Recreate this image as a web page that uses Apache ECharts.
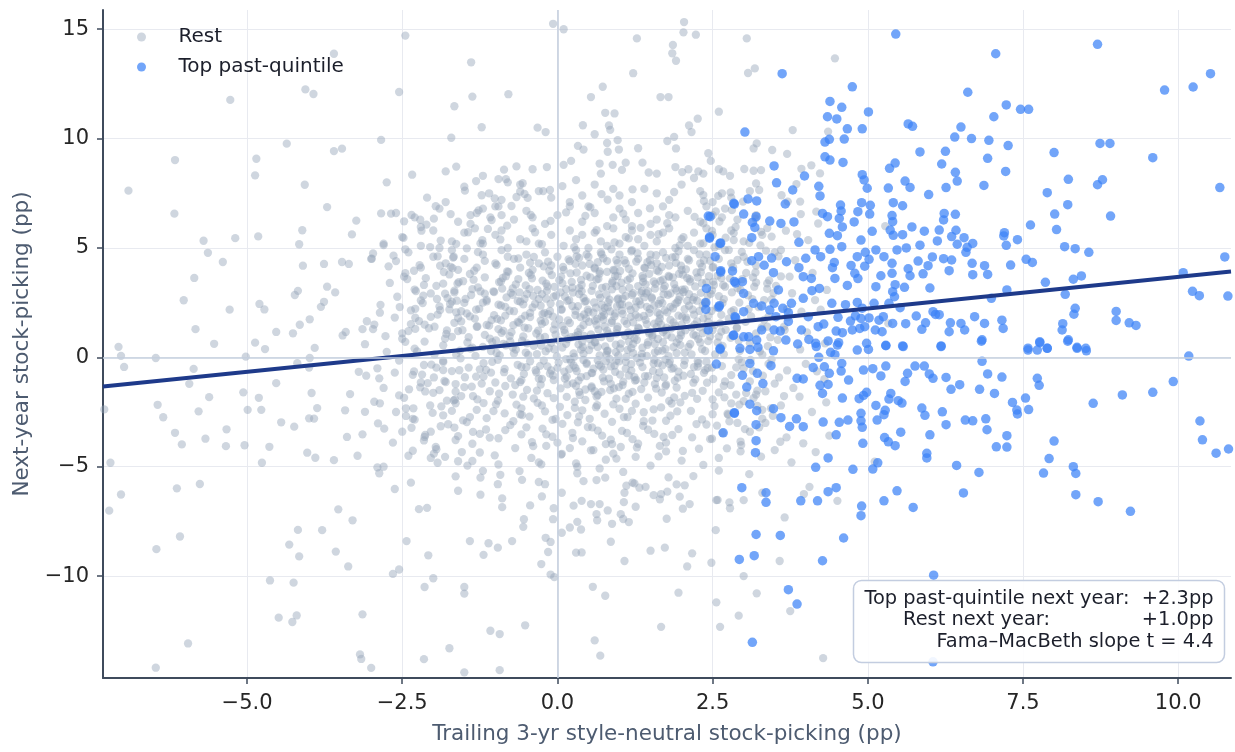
<!DOCTYPE html>
<html><head><meta charset="utf-8">
<script src="https://cdn.jsdelivr.net/npm/echarts@6/dist/echarts.min.js"></script>
<style>html,body{margin:0;padding:0;background:#fff}#chart{width:1235px;height:752px}</style>
</head><body><div id="chart"></div>
<script>
const xTicks = [-5, -2.5, 0, 2.5, 5, 7.5, 10];
const yTicks = [-10, -5, 0, 5, 10, 15];
const xRange = [-7.32, 10.85];
const yRange = [-14.66, 15.88];
const fitX = [-7.32, 10.85];
const fitY = [-1.33, 3.92];
const seriesNames = ['Rest', 'Top past-quintile'];
const statLines = ['Top past-quintile next year:  +2.3pp', 'Rest next year:', '+1.0pp', 'Fama\u2013MacBeth slope t = 4.4'];

const restSparse = [
[-6.91,7.62],[-6.16,9.02],[-6.17,6.57],[-5.27,11.77],[-5.70,5.33],[-5.63,4.78],[-5.19,5.45],[-5.39,4.36],[-5.85,3.63],[-6.02,2.61],[-5.28,2.18],[-5.83,1.29],[-4.85,9.08],[-4.87,8.32],[-4.82,5.53],[-4.36,9.77],[-4.06,12.25],[-3.93,12.04],[-3.60,13.88],[-3.60,9.43],[-3.47,9.54],[-4.07,7.89],[-3.71,6.87],[-4.11,5.81],[-4.16,5.17],[-4.10,4.19],[-3.76,4.27],[-3.47,4.36],[-3.36,4.27],[-3.31,5.62],[-3.24,6.25],[-2.84,9.94],[-2.55,12.13],[-2.45,14.71],[-1.39,13.49],[-1.37,11.92],[-1.66,11.48],[-1.22,10.52],[-1.71,10.04],[-0.79,12.03],[-0.32,10.50],[-0.19,10.30],[-0.07,15.25],[-2.34,8.35],[-2.75,8.0],[-2.84,6.58],[-2.68,6.57],[-2.47,6.22],[-2.35,6.51],[-2.21,6.29],[-2.20,5.96],[-1.99,6.34],[-2.80,5.13],[-2.97,4.75],[-2.99,4.51],[-2.64,4.65],[-2.72,4.16],[-2.45,4.94],[-2.47,3.69],[-2.31,3.96],[-2.05,5.04],[-1.89,4.19],[-1.63,8.72],[-1.31,8.06],[-1.49,7.62],[-1.63,5.19],[-1.67,4.60],[-1.72,4.14],[-1.84,3.37],[-2.15,3.31],[-2.16,2.82],[-1.94,2.67],[-1.66,2.97],[-1.62,2.59],[-1.37,3.12],[-1.17,2.91],[-1.14,2.56],[-1.46,2.01],[-1.74,2.19],[-1.89,2.16],[-2.29,2.22],[-2.29,1.81],[-2.54,2.30],[-2.86,2.04],[-3.07,1.65],[-2.97,1.29],[-3.14,1.29],[-3.41,1.16],[-3.46,1.0],[-2.77,0.97],[-2.50,1.10],[-2.29,1.3],[-2.14,1.5],[-1.98,1.4],[-1.6,1.2],[-1.3,1.4],[-3.58,2.97],[-3.71,3.23],[-3.81,2.31],[-3.76,2.54],[-4.23,2.85],[-4.18,3.04],[-4.80,2.44],[-4.72,2.19],[-3.99,1.74],[-4.15,1.49],[-4.53,1.16],[-4.26,1.10],[-0.66,8.73],[-0.86,8.58],[-0.95,8.15],[-0.83,8.15],[-0.56,7.96],[-0.6,7.58],[-0.66,7.33],[-0.48,7.29],[-1.01,7.27],[-0.95,6.9],[-0.23,7.6],[-0.12,7.65],[-0.17,8.7],[-1.2,6.8],[-1.08,6.4],[-1.4,6.5],[-1.33,5.9],
[-7.07,0.48],[-7.03,0.07],[-6.98,-0.44],[-6.47,-0.03],[-5.53,0.62],[-5.86,-0.53],[-5.93,-1.21],[-4.87,0.67],[-4.71,0.38],[-5.02,0.03],[-6.44,-2.17],[-6.35,-2.74],[-6.16,-3.45],[-6.05,-3.98],[-5.78,-2.47],[-5.67,-3.72],[-5.61,-1.82],[-5.33,-3.29],[-5.34,-4.06],[-5.04,-4.02],[-5.06,-1.6],[-4.99,-2.4],[-4.77,-2.4],[-4.81,-1.85],[-4.53,-1.18],[-4.64,-4.09],[-4.76,-4.82],[-4.45,-2.97],[-4.24,-3.17],[-4.0,-2.79],[-3.92,-2.8],[-3.87,-2.32],[-3.96,-1.63],[-4.03,-4.36],[-3.9,-4.59],[-3.6,-4.7],[-4.19,-0.27],[-4.0,-0.47],[-3.99,-0.03],[-3.91,0.43],[-3.42,-2.42],[-3.34,-1.68],[-3.39,-3.64],[-3.14,-3.52],[-3.22,-4.5],[-3.1,-2.49],[-3.2,-0.66],[-3.08,-0.84],[-2.87,-0.96],[-2.95,-2.03],[-2.86,-2.1],[-2.89,-3.02],[-2.79,-3.26],[-2.65,-3.9],[-2.9,-5.03],[-2.8,-5.0],[-2.87,-5.3],[-2.62,-6.02],[-2.62,-0.7],[-2.55,-1.74],[-2.44,-2.33],[-2.44,-2.68],[-2.32,-2.33],[-2.35,-3.22],[-2.33,-4.27],[-2.13,-3.55],[-2.04,-3.4],[-1.96,-4.1],[-1.99,-4.4],[-1.81,-4.55],[-1.93,-4.82],[-2.04,-4.6],[-2.21,-1.37],[-2.13,-1.56],[-2.18,-0.79],[-1.95,-0.47],[-1.84,-0.58],[-1.8,-1.13],[-1.78,-1.98],[-1.64,-1.57],[-1.55,-1.77],[-1.66,-3.21],[-1.64,-3.78],[-1.54,-4.33],[-1.37,-4.74],[-1.2,-5.19],[-1.64,-5.44],[-1.6,-6.1],[-1.24,-5.5],[-1.24,-6.28],[-0.96,-5.8],[-0.92,-5.37],[-0.89,-6.45],[-0.89,-6.85],[-0.61,-5.2],[-0.57,-5.6],[-0.3,-5.7],[-0.2,-5.8],[-0.25,-6.36],[-0.44,-6.77],[-0.06,-6.9],[-0.07,-7.4],[-0.54,-7.4],[-0.55,-7.75],[-0.19,-8.25],[-0.11,-8.44],[-0.15,-8.9],[-0.26,-9.45],[-0.11,-9.93],[-0.05,-10.05],[-0.73,-8.4],[-0.96,-8.7],[-1.11,-8.5],[-1.19,-9.03],[-1.41,-8.4],[-2.08,-9.05],[-2.43,-8.4],[-2.23,-6.94],[-2.1,-6.88],[-2.36,-5.73],[-2.0,-10.1],[-2.14,-10.5],[-1.5,-10.5],[-1.5,-10.8],[-2.65,-9.9],[-2.55,-9.7],[-3.37,-9.56],[-3.57,-8.88],[-3.79,-7.9],[-3.3,-7.45],[-3.53,-6.95],[-4.18,-7.89],[-4.16,-9.1],[-4.32,-8.56],[-4.63,-10.2],[-4.25,-10.3],[-4.49,-11.9],[-4.2,-11.8],[-4.27,-12.1],[-3.14,-11.75],[-3.18,-13.58],[-3.0,-14.2],[-2.15,-13.8],[-1.74,-13.3],[-1.08,-12.5],[-0.93,-12.65],[-0.52,-12.25],[-0.93,-14.3],[-1.5,-14.4],[-5.95,-13.08],[-6.47,-14.19],[-6.46,-8.77],[-6.08,-8.19],[-6.13,-5.99],[-5.76,-5.79],[-7.03,-6.27],[-7.22,-7.01],[-7.2,-4.82],[-7.3,-2.38],[-3.16,-13.79],[4.28,-13.75],
[0.23,15.9],[0.1,15.0],[1.28,14.58],[2.04,15.33],[2.03,14.86],[2.23,14.75],[1.86,14.28],[1.85,13.9],[1.91,13.56],[1.22,12.99],[0.73,12.37],[0.54,11.9],[1.66,11.9],[1.79,11.9],[2.6,11.23],[2.26,10.91],[2.12,10.6],[2.16,10.3],[0.77,11.18],[0.92,11.15],[0.41,10.61],[0.83,10.6],[0.85,10.4],[0.6,10.2],[0.97,9.93],[0.33,9.67],[0.42,9.5],[0.8,9.8],[0.81,9.4],[0.99,9.5],[1.3,9.56],[1.77,9.89],[1.88,10.08],[1.91,9.55],[2.43,9.33],[2.47,8.98],[0.22,8.98],[0.68,8.86],[0.89,8.8],[1.04,8.57],[1.37,8.9],[1.47,8.45],[2.01,8.47],[2.11,8.6],[2.27,8.5],[2.35,8.4],[2.67,8.5],[2.78,8.3],
[0.07,-6.19],[0.07,-8.02],[0.2,-7.78],[0.32,-7.52],[0.38,-7.87],[0.26,-6.78],[0.39,-6.56],[0.54,-6.71],[0.68,-6.71],[0.63,-7.17],[0.64,-7.45],[0.81,-7.0],[0.88,-7.61],[1.02,-7.17],[1.06,-7.39],[1.15,-7.53],[1.07,-6.62],[1.26,-6.83],[1.08,-6.19],[1.11,-5.87],[1.21,-5.73],[1.32,-5.96],[1.42,-5.92],[1.55,-6.3],[1.67,-6.25],[1.77,-6.14],[1.65,-6.49],[1.79,-5.49],[1.97,-6.37],[2.02,-6.92],[2.13,-6.71],[1.76,-7.38],[0.86,-8.43],[0.3,-8.93],[0.39,-8.92],[1.08,-9.31],[1.5,-8.84],[1.73,-8.7],[2.17,-8.96],[2.09,-9.56],[2.48,-9.39],[2.55,-7.9],[2.56,-11.2],[2.62,-12.32],[1.95,-10.76],[0.57,-10.49],[0.77,-10.9],[1.67,-12.32],[0.6,-12.94],[0.69,-13.64],[2.58,-6.52],[2.77,-6.63],[2.78,-6.9],[2.6,-5.18],[1.92,-5.81],[2.05,-5.85],[2.19,-5.43],[0.42,-5.66],[0.63,-5.61],[0.77,-5.5],[0.68,-5.08],[0.32,-5.3],[0.32,-5.0],[1.24,-5.76],[1.06,-5.24],
[2.35,-4.92],[3.09,-5.34],[2.56,-6.53],[3.0,-6.53],[3.3,-6.19],[3.66,-7.32],[3.0,-10.0],[3.58,-9.31],[3.21,-10.79],[2.92,-11.81],[3.75,-11.6],[4.06,-5.92],[3.97,-6.25],[4.51,-6.56],[3.77,-4.8],[4.16,-4.33],[5.11,-4.77],[2.49,-3.72],[2.73,-4.16],[2.96,-4.01],[3.28,-4.54],[3.59,-3.86],[3.5,-4.24],[3.69,-3.66],[3.96,-3.93],[4.38,-3.58],
[3.05,14.58],[3.07,13.0],[3.18,13.21],[4.47,13.67],[3.79,10.39],[3.16,9.55],[3.21,9.78],[3.46,9.48],[3.7,9.3],[3.01,8.61],[3.16,8.53],[3.28,8.56],[4.09,8.78],[3.93,8.62],[4.23,8.41],[4.36,10.32],[3.2,7.95],[3.25,7.65],[2.65,7.5],[2.79,7.54],[2.35,7.42],[3.61,7.41],[3.85,7.92],[3.71,7.12],[3.91,7.12],[2.81,6.73],[2.65,6.4],[2.35,6.13],[4.17,6.66],[3.92,6.55],[4.2,6.12],[3.28,5.74],[3.45,5.52],[3.68,5.79],[4.04,5.36],[2.84,5.36],[2.35,5.21],[3.6,4.91],[2.51,4.14],[2.9,4.45],[2.51,3.46],[2.7,3.23],[3.17,3.23],[3.38,3.38],[3.74,3.69],[4.15,2.62],[4.34,3.08],[3.93,2.09],[3.38,1.4],[3.66,1.25],[2.84,2.16],[2.62,1.55],[2.4,1.25],[5.28,6.0],[4.31,0.64],[5.33,1.55],
[2.4,-0.2],[2.7,-1.1],[3.0,-0.5],[3.3,-2.8],[3.5,-1.2],[3.7,-0.6],[3.9,-1.8],[4.1,-2.5],[2.5,-2.6],[2.9,-3.0],[3.2,-1.7],[3.6,-2.2],[4.0,-0.3],[3.45,-0.1],[2.8,-2.1],[3.1,-3.4],[3.8,-1.4],[4.3,-1.0],[2.6,-1.6],[3.35,-3.0]
];

const restCore = [
[-1.2,8.3],[-0.4,8.6],[0.3,8.1],[1.1,8.9],[1.6,8.4],[2.2,8.2],[-1.8,8.5],[0.7,8.4],[1.9,8.7],[-0.8,8.0],[2.6,8.6],[0.1,8.8],
[-2.1,7.3],[-1.5,7.8],[-0.9,7.2],[-0.3,7.6],[0.2,7.1],[0.6,7.9],[1.0,7.4],[1.4,7.7],[1.8,7.2],[2.3,7.6],[2.8,7.3],[-1.1,7.5],[0.4,7.4],[1.2,7.1],[2.0,7.9],[-0.6,7.9],[1.6,7.5],[-1.8,7.1],[0.9,7.7],[2.5,7.1],[-0.1,7.3],[3.1,7.6],
[-2.3,6.4],[-1.9,6.8],[-1.6,6.2],[-1.3,6.6],[-1.0,6.9],[-0.7,6.3],[-0.5,6.7],[-0.2,6.1],[0.0,6.5],[0.2,6.9],[0.4,6.2],[0.6,6.6],[0.8,6.0],[1.0,6.8],[1.1,6.3],[1.3,6.6],[1.5,6.1],[1.7,6.9],[1.9,6.4],[2.1,6.7],[2.3,6.2],[2.5,6.5],[2.7,6.8],[2.9,6.3],[-1.4,6.1],[-0.4,6.4],[0.5,6.9],[1.2,6.0],[1.8,6.5],[2.4,6.9],[-0.9,6.5],[0.9,6.4],[1.6,6.3],[-2.6,6.6],[3.2,6.5],
[-2.5,5.5],[-2.2,5.1],[-2.0,5.8],[-1.7,5.3],[-1.5,5.7],[-1.2,5.2],[-1.0,5.6],[-0.8,5.0],[-0.6,5.4],[-0.4,5.9],[-0.3,5.2],[-0.1,5.6],[0.1,5.1],[0.2,5.8],[0.3,5.4],[0.5,5.0],[0.6,5.7],[0.7,5.3],[0.9,5.9],[1.0,5.2],[1.1,5.5],[1.2,5.8],[1.4,5.1],[1.5,5.6],[1.6,5.3],[1.8,5.9],[1.9,5.0],[2.0,5.4],[2.2,5.7],[2.3,5.2],[2.5,5.6],[2.6,5.1],[2.8,5.8],[3.0,5.3],[3.3,5.6],[-1.9,5.0],[-0.9,5.8],[0.4,5.6],[0.8,5.1],[1.3,5.4],[1.7,5.7],[2.1,5.1],[2.4,5.9],[-2.8,5.2],[-0.5,5.3],
[-2.6,4.4],[-2.4,4.8],[-2.2,4.1],[-2.0,4.6],[-1.8,4.3],[-1.7,4.9],[-1.5,4.5],[-1.3,4.1],[-1.2,4.7],[-1.0,4.3],[-0.9,4.9],[-0.7,4.5],[-0.6,4.1],[-0.5,4.7],[-0.3,4.3],[-0.2,4.8],[-0.1,4.2],[0.0,4.6],[0.1,4.0],[0.2,4.4],[0.3,4.9],[0.4,4.2],[0.5,4.6],[0.6,4.1],[0.7,4.8],[0.8,4.4],[0.9,4.0],[1.0,4.7],[1.1,4.3],[1.2,4.9],[1.3,4.5],[1.4,4.1],[1.5,4.7],[1.6,4.3],[1.7,4.8],[1.8,4.2],[1.9,4.6],[2.0,4.0],[2.1,4.5],[2.2,4.9],[2.3,4.3],[2.4,4.7],[2.5,4.1],[2.6,4.5],[2.7,4.9],[2.8,4.3],[3.0,4.6],[3.2,4.2],[3.5,4.8],[-1.6,4.0],[-0.8,4.6],[0.35,4.55],[0.95,4.45],[1.45,4.35],[1.95,4.85],[-0.4,4.0],[0.65,4.35],[1.15,4.05],[1.75,4.55],[-3.0,4.5],
[-2.7,3.4],[-2.45,3.85],[-2.3,3.1],[-2.12,3.62],[-1.95,3.27],[-1.83,3.9],[-1.66,3.05],[-1.52,3.48],[-1.41,3.81],[-1.28,3.2],[-1.17,3.66],[-1.03,3.02],[-0.94,3.44],[-0.81,3.93],[-0.72,3.15],[-0.63,3.58],[-0.51,3.29],[-0.43,3.77],[-0.32,3.08],[-0.24,3.51],[-0.13,3.96],[-0.05,3.22],[0.06,3.69],[0.14,3.12],[0.23,3.45],[0.31,3.88],[0.39,3.31],[0.47,3.73],[0.55,3.04],[0.63,3.56],[0.72,3.18],[0.8,3.91],[0.88,3.39],[0.97,3.71],[1.05,3.09],[1.13,3.53],[1.21,3.84],[1.3,3.26],[1.38,3.62],[1.46,3.01],[1.55,3.47],[1.63,3.93],[1.71,3.14],[1.8,3.68],[1.88,3.35],[1.96,3.82],[2.05,3.11],[2.13,3.57],[2.22,3.24],[2.31,3.89],[2.4,3.43],[2.49,3.06],[2.58,3.74],[2.67,3.3],[2.78,3.61],[2.9,3.17],[3.04,3.86],[3.2,3.42],[3.38,3.13],[3.6,3.7],[-0.88,3.63],[-0.18,3.37],[0.35,3.16],[0.92,3.97],[1.42,3.34],[1.92,3.05],[2.26,3.66],[-1.35,3.55],[0.68,3.83],[1.66,3.49],
[-2.85,2.4],[-2.58,2.77],[-2.36,2.15],[-2.2,2.6],[-2.04,2.92],[-1.9,2.33],[-1.77,2.71],[-1.63,2.06],[-1.5,2.49],[-1.39,2.85],[-1.26,2.22],[-1.14,2.63],[-1.02,2.98],[-0.91,2.37],[-0.82,2.74],[-0.7,2.11],[-0.6,2.55],[-0.49,2.9],[-0.4,2.28],[-0.3,2.67],[-0.21,2.03],[-0.11,2.46],[-0.02,2.83],[0.07,2.19],[0.16,2.58],[0.25,2.96],[0.33,2.34],[0.42,2.72],[0.5,2.08],[0.59,2.51],[0.67,2.88],[0.76,2.26],[0.84,2.64],[0.93,2.0],[1.01,2.43],[1.1,2.81],[1.18,2.17],[1.27,2.56],[1.35,2.94],[1.44,2.31],[1.52,2.69],[1.61,2.05],[1.69,2.48],[1.78,2.86],[1.86,2.24],[1.95,2.62],[2.03,2.99],[2.12,2.36],[2.2,2.75],[2.29,2.12],[2.38,2.53],[2.47,2.9],[2.57,2.27],[2.68,2.66],[2.8,2.09],[2.93,2.5],[3.07,2.84],[3.24,2.3],[3.45,2.65],[3.7,2.2],[-0.55,2.42],[0.12,2.78],[0.71,2.41],[1.22,2.93],[1.73,2.15],[2.25,2.59],[-1.2,2.5],[0.46,2.57],[1.56,2.38],[-0.25,2.89],[0.98,2.69],[1.9,2.45],[2.6,2.8],[-1.7,2.55],[0.29,2.13],[1.4,2.75],[2.05,2.2],[-0.75,2.95],[0.85,2.1],[1.15,2.36],
[-2.95,1.5],[-2.62,1.82],[-2.4,1.2],[-2.23,1.66],[-2.07,1.33],[-1.93,1.95],[-1.79,1.07],[-1.66,1.58],[-1.53,1.24],[-1.41,1.87],[-1.29,1.41],[-1.17,1.03],[-1.06,1.7],[-0.95,1.29],[-0.84,1.91],[-0.74,1.15],[-0.64,1.62],[-0.53,1.36],[-0.44,1.84],[-0.34,1.09],[-0.25,1.53],[-0.15,1.97],[-0.06,1.27],[0.03,1.73],[0.12,1.12],[0.2,1.57],[0.29,1.93],[0.37,1.31],[0.46,1.78],[0.54,1.05],[0.63,1.49],[0.71,1.86],[0.8,1.22],[0.88,1.67],[0.97,1.4],[1.05,1.99],[1.14,1.14],[1.22,1.6],[1.31,1.32],[1.39,1.89],[1.48,1.08],[1.56,1.54],[1.65,1.96],[1.73,1.25],[1.82,1.71],[1.9,1.45],[1.99,1.01],[2.07,1.83],[2.16,1.37],[2.25,1.64],[2.34,1.11],[2.43,1.9],[2.53,1.48],[2.64,1.18],[2.76,1.77],[2.89,1.34],[3.03,1.62],[3.2,1.09],[3.4,1.86],[3.65,1.4],[-0.58,1.75],[0.08,1.44],[0.6,1.68],[1.18,1.85],[1.7,1.15],[2.2,1.95],[-1.1,1.45],[0.33,1.02],[1.44,1.52],[-0.2,1.62],[0.95,1.1],[1.87,1.6],[2.5,1.25],[-1.6,1.8],[0.42,1.48],[1.28,1.16],[2.0,1.5],[-0.9,1.12],[0.75,1.93],[1.6,1.39],
[-3.1,0.6],[-2.75,0.25],[-2.5,0.85],[-2.3,0.4],[-2.14,0.72],[-1.98,0.13],[-1.84,0.55],[-1.7,0.94],[-1.57,0.31],[-1.45,0.68],[-1.32,0.07],[-1.2,0.48],[-1.09,0.86],[-0.98,0.2],[-0.87,0.62],[-0.77,0.97],[-0.67,0.35],[-0.57,0.76],[-0.47,0.11],[-0.38,0.53],[-0.28,0.91],[-0.19,0.27],[-0.1,0.66],[-0.01,0.04],[0.08,0.45],[0.17,0.83],[0.26,0.18],[0.34,0.59],[0.43,0.98],[0.51,0.33],[0.6,0.7],[0.68,0.09],[0.77,0.5],[0.85,0.88],[0.94,0.24],[1.02,0.63],[1.11,0.02],[1.19,0.42],[1.28,0.8],[1.36,0.16],[1.45,0.57],[1.53,0.95],[1.62,0.29],[1.7,0.69],[1.79,0.06],[1.87,0.47],[1.96,0.85],[2.05,0.22],[2.14,0.61],[2.23,0.99],[2.33,0.37],[2.43,0.74],[2.54,0.14],[2.66,0.52],[2.79,0.89],[2.94,0.3],[3.1,0.65],[3.3,0.12],[3.55,0.8],[-0.72,0.45],[-0.05,0.37],[0.55,0.55],[1.15,0.72],[1.74,0.38],[2.3,0.68],[-1.4,0.4],[0.22,0.92],[0.98,0.08],[1.57,0.61],[-0.33,0.15],[0.8,0.28],[1.92,0.2],[2.6,0.95],[-1.05,0.7],[0.38,0.35],
[-2.9,-0.5],[-2.55,-0.15],[-2.33,-0.8],[-2.15,-0.35],[-1.99,-0.92],[-1.84,-0.22],[-1.7,-0.63],[-1.56,-0.05],[-1.43,-0.47],[-1.31,-0.88],[-1.19,-0.27],[-1.07,-0.7],[-0.96,-0.11],[-0.85,-0.53],[-0.75,-0.96],[-0.64,-0.34],[-0.54,-0.76],[-0.44,-0.18],[-0.35,-0.59],[-0.25,-0.99],[-0.16,-0.41],[-0.07,-0.83],[0.02,-0.24],[0.11,-0.65],[0.2,-0.08],[0.29,-0.49],[0.38,-0.9],[0.47,-0.31],[0.56,-0.72],[0.65,-0.14],[0.74,-0.56],[0.83,-0.97],[0.92,-0.38],[1.01,-0.79],[1.1,-0.2],[1.19,-0.61],[1.28,-0.03],[1.37,-0.45],[1.46,-0.86],[1.55,-0.28],[1.64,-0.69],[1.74,-0.1],[1.84,-0.52],[1.94,-0.93],[2.04,-0.35],[2.15,-0.76],[2.26,-0.17],[2.38,-0.58],[2.51,-0.99],[2.65,-0.4],[2.8,-0.81],[2.97,-0.22],[3.15,-0.63],[3.4,-0.3],[-0.5,-0.45],[0.15,-0.88],[0.7,-0.42],[1.24,-0.9],[1.8,-0.3],[-1.25,-0.55],[0.42,-0.12],[1.6,-0.95],[2.2,-0.45],[-0.1,-0.6],[0.95,-0.15],
[-2.8,-1.4],[-2.47,-1.85],[-2.2,-1.15],[-2.0,-1.62],[-1.82,-1.08],[-1.65,-1.93],[-1.5,-1.36],[-1.36,-1.77],[-1.22,-1.2],[-1.09,-1.55],[-0.96,-1.98],[-0.84,-1.31],[-0.72,-1.7],[-0.6,-1.13],[-0.49,-1.49],[-0.38,-1.88],[-0.27,-1.25],[-0.16,-1.64],[-0.06,-1.04],[0.05,-1.42],[0.15,-1.81],[0.25,-1.19],[0.35,-1.58],[0.45,-1.95],[0.55,-1.33],[0.65,-1.72],[0.75,-1.1],[0.85,-1.5],[0.95,-1.89],[1.05,-1.27],[1.15,-1.66],[1.25,-1.06],[1.35,-1.45],[1.46,-1.84],[1.57,-1.22],[1.68,-1.61],[1.8,-1.99],[1.92,-1.38],[2.05,-1.76],[2.19,-1.16],[2.34,-1.53],[2.5,-1.92],[2.68,-1.3],[2.88,-1.7],[3.1,-1.1],[3.35,-1.55],[-1.9,-1.5],[-0.55,-1.8],[0.3,-1.3],[1.1,-1.9],[1.75,-1.25],[-1.0,-1.15],[0.6,-1.55],[1.4,-1.15],[2.25,-1.9],
[-2.6,-2.5],[-2.3,-2.85],[-2.05,-2.2],[-1.84,-2.65],[-1.64,-2.1],[-1.46,-2.96],[-1.3,-2.4],[-1.14,-2.78],[-0.99,-2.15],[-0.85,-2.56],[-0.71,-2.92],[-0.58,-2.33],[-0.45,-2.71],[-0.32,-2.08],[-0.2,-2.47],[-0.08,-2.86],[0.04,-2.26],[0.16,-2.64],[0.28,-2.03],[0.4,-2.42],[0.52,-2.81],[0.64,-2.19],[0.76,-2.58],[0.88,-2.95],[1.0,-2.35],[1.13,-2.73],[1.26,-2.12],[1.39,-2.51],[1.53,-2.89],[1.67,-2.29],[1.82,-2.67],[1.98,-2.06],[2.15,-2.45],[2.33,-2.84],[2.53,-2.23],[2.75,-2.62],[3.0,-2.0],[3.3,-2.4],[-0.6,-2.6],[0.35,-2.7],[1.2,-2.45],[-1.7,-2.45],[0.9,-2.15],[1.75,-2.9],[-0.25,-2.2],
[-2.5,-3.4],[-2.15,-3.8],[-1.88,-3.15],[-1.6,-3.6],[-1.37,-3.95],[-1.15,-3.3],[-0.95,-3.7],[-0.76,-3.1],[-0.58,-3.52],[-0.41,-3.88],[-0.24,-3.26],[-0.08,-3.63],[0.08,-3.04],[0.24,-3.45],[0.4,-3.84],[0.56,-3.2],[0.72,-3.58],[0.88,-3.97],[1.04,-3.36],[1.21,-3.74],[1.38,-3.13],[1.56,-3.5],[1.75,-3.9],[1.95,-3.28],[2.17,-3.66],[2.4,-3.07],[2.66,-3.46],[2.95,-3.85],[3.25,-3.2],[-1.25,-3.5],[0.0,-3.9],[0.65,-3.35],[1.3,-3.95],[-0.5,-3.2],[1.85,-3.55],
[-2.4,-4.5],[-1.95,-4.2],[-1.6,-4.75],[-1.25,-4.35],[-0.95,-4.9],[-0.68,-4.15],[-0.42,-4.6],[-0.18,-4.05],[0.06,-4.45],[0.3,-4.85],[0.54,-4.25],[0.78,-4.68],[1.02,-4.1],[1.26,-4.55],[1.5,-4.95],[1.75,-4.3],[2.0,-4.72],[2.28,-4.18],[2.6,-4.6],[2.95,-4.3],[-1.45,-4.95],[-0.3,-4.8],[0.9,-4.4],[1.65,-4.05],[0.2,-4.15]
];

const restDense = [
[0.37,1.84],[1.62,-0.27],[-0.45,3.12],[2.18,2.63],[0.91,-1.42],[1.27,4.38],[-0.83,0.55],[0.05,2.97],[1.84,0.91],[2.41,-1.16],[-0.12,-0.74],[0.66,3.59],[1.49,2.21],[-0.97,1.76],[0.28,-2.31],[2.07,4.02],[1.13,0.34],[-0.36,2.45],[0.82,1.08],[1.95,-0.65],[0.47,4.71],[-0.68,-1.27],[1.36,3.03],[2.29,1.37],[0.14,0.62],[1.71,2.88],[-0.22,4.16],[0.99,-0.18],[2.52,3.31],[0.58,2.04],[-0.91,3.47],[1.08,1.67],[1.88,-1.83],[0.21,3.84],[-0.55,0.96],[1.44,0.07],[2.34,2.36],[0.73,-0.93],[-0.04,1.51],[1.59,4.67],[0.34,-1.06],[2.11,0.48],[-0.77,2.13],[0.95,3.26],[1.67,1.49],[-0.28,-0.39],[0.52,0.83],[1.21,-1.58],[2.46,4.41],[0.08,3.38],[-1.05,-0.21],[1.79,3.72],[0.63,-1.79],[1.32,2.57],[-0.47,1.33],[2.26,-0.42],[0.87,4.94],[0.19,-0.54],[1.53,1.02],[-0.63,4.52],[1.04,2.42],[2.01,1.86],[0.42,0.16],[-0.18,2.68],[1.41,-0.86],[0.76,1.41],[2.38,0.29],[-0.86,-0.68],[0.29,4.28],[1.17,3.61],[1.93,2.51],[-0.33,-1.52],[0.69,2.72],[1.56,-0.11],[0.02,0.78],[2.14,3.46],[-0.72,2.86],[0.94,0.58],[1.74,-1.31],[0.47,-0.25],[1.26,1.94],[-0.09,3.76],[2.22,-1.01],[0.81,2.29],[1.6,3.98],[-0.51,0.22],[0.33,1.15],[1.99,1.14],[1.1,-0.52],[-0.24,1.98],[0.6,4.06],[1.46,0.69],[2.31,2.95],[-0.95,2.41],[0.16,-1.23],[1.38,3.45],[0.86,-0.41],[1.82,2.31],[-0.41,3.61],[0.51,1.62],[2.05,-0.15],[1.19,4.85],[-0.14,0.41],[0.71,-1.58],[1.52,2.74],[2.43,1.62],[0.24,2.35],[-0.62,1.58],[1.01,3.95],[1.69,0.31],[0.39,3.02],[2.17,-1.62],[-0.3,-0.97],[0.92,1.87],[1.33,-0.24],[1.91,4.32],[0.11,1.26],[-0.79,3.91],[0.55,-0.71],[1.65,1.78],[2.27,0.83],[0.78,3.22],[-0.06,-1.86],[1.24,0.87],[0.44,2.55],[1.87,-0.48],[-0.44,2.03],[1.06,-1.11],[2.09,2.58],[0.27,0.02],[1.48,3.82],[0.65,0.47],[-0.87,1.21],[1.77,2.06],[0.18,4.48],[2.36,-0.71],[0.97,2.65],[-0.2,0.93],[1.3,1.36],[0.53,3.66],[1.98,0.56],[-0.58,-0.43],[0.84,-0.07],[1.57,3.14],[2.48,2.12],[0.06,2.18],[1.15,-0.83],[-0.38,4.59],[0.74,1.72],[1.72,-0.92],[0.31,-0.63],[2.02,3.78],[1.37,0.44],[-0.7,0.18],[0.89,3.48],[1.63,2.44],[0.45,-1.47],[2.19,1.04],[-0.16,3.24],[1.09,0.98],[0.62,2.27],[1.9,3.15],[-0.99,0.77],[0.22,-0.19],[1.42,1.71],[2.33,4.14],[0.79,0.12],[-0.27,1.68],[1.2,2.86],[0.4,0.71],[1.83,1.31],[0.0,-0.48],[2.12,2.89],[0.67,-0.34],[1.51,4.22],[-0.53,2.67],[0.96,1.29],[1.7,3.55],
[-1.63,0.12],[-2.17,2.48],[3.12,1.87],[-1.41,-2.73],[2.76,4.91],[-1.88,5.34],[3.31,-0.84],[-2.39,-1.46],[2.61,6.21],[-1.27,6.72],[3.48,2.94],[-1.74,3.79],[2.93,-2.16],[-2.03,-0.33],[-1.12,5.87],[3.06,4.37],[-1.55,1.64],[2.68,0.14],[-2.28,3.03],[-1.36,-3.41],[3.22,-1.52],[-1.93,4.62],[2.84,5.68],[-1.19,-0.88],[-2.45,0.71],[3.39,0.51],[-1.67,-1.97],[2.57,-3.12],[-1.46,4.98],[-2.11,6.07],[3.15,3.66],[-1.03,-2.46],[2.71,1.26],[-1.81,2.91],[-2.33,-2.81],[2.99,7.12],[-1.22,7.41],[3.27,5.12],[-1.58,-0.59],[-2.04,1.85],[2.88,-0.46],[-1.31,2.18],[3.44,-2.33],[-1.72,6.55],[-2.22,4.21],[2.64,3.62],[-1.09,-3.67],[3.08,2.21],[-1.87,-2.24],[-2.48,5.46],[2.79,-1.27],[-1.43,0.92],[3.36,4.88],[-1.61,3.37],[-2.09,-1.18],[2.92,0.77],[-1.17,4.41],[3.19,6.34],[-1.78,1.23],[-2.36,1.52],[2.66,2.48],[-1.38,-1.34],[3.02,-3.28],[-1.96,6.91],[-2.14,-3.64],[2.83,4.12],[-1.24,5.21],[3.29,1.37],[-1.52,-2.88],[-2.42,3.58],[2.74,-2.58],[-1.69,4.08],[3.11,-0.12],[-1.06,6.28],[-2.26,0.27],[2.95,3.08],[-1.84,-0.16],[3.41,3.52],[-1.34,3.96],[-2.01,-2.54],[2.59,7.38],[-1.48,2.67],[3.16,-1.86],[-2.19,5.79],[-1.14,1.48],[2.87,5.96],[-1.76,-3.06],[3.33,2.62],[-2.31,-0.64],[-1.29,-1.92],
[0.45,6.47],[1.21,7.68],[-0.36,5.72],[1.77,6.13],[0.08,7.83],[2.03,5.49],[-0.74,6.92],[0.92,5.26],[1.49,6.81],[-0.11,6.24],[2.36,7.14],[0.63,5.81],[-0.92,5.39],[1.06,6.57],[1.88,7.56],[0.27,5.04],[-0.53,7.47],[1.63,5.63],[2.21,6.42],[0.81,7.21],[-0.25,5.17],[1.34,5.92],[0.53,6.86],[-0.81,6.02],[1.97,5.12],[0.14,6.63],[1.15,5.44],[2.49,5.78],[-0.43,6.51],[0.71,7.46],
[0.33,-2.97],[1.46,-3.31],[-0.57,-2.64],[0.86,-3.76],[1.93,-2.47],[-0.18,-3.52],[0.62,-2.28],[1.28,-4.12],[-0.84,-3.33],[2.24,-3.05],[0.07,-4.41],[1.07,-2.73],[-0.39,-4.06],[1.71,-3.64],[0.49,-3.19],[2.02,-4.28],[-0.66,-2.16],[0.95,-4.63],[1.55,-2.38],[-0.03,-2.82],[0.78,-3.97],[1.39,-2.92],[-1.01,-4.48],[0.25,-3.69],[1.84,-2.11],[2.46,-3.74],[-0.26,-4.89],[1.12,-3.46],[0.58,-4.24],[1.63,-4.53],
[-1.55,2.11],[-1.24,3.02],[-0.98,4.23],[-1.37,0.44],[-1.15,-0.57],[-1.68,4.56],[-1.02,1.93],[-1.49,-0.91],[-1.21,5.36],[-1.81,0.86],[-0.94,-1.66],[-1.33,1.77],[-1.59,3.44],[-1.07,0.29],[-1.44,5.72],[-1.19,-2.09],[-1.73,2.44],[-0.89,3.14],[-1.28,4.81],[-1.64,-1.22]
];

const restHeart = [
[2.44,3.71],[2.97,4.82],[3.14,2.66],[3.52,3.27],[2.71,5.47],[3.83,4.44],[2.58,0.68],[3.26,0.27],[3.71,1.83],[2.49,-0.47],[3.04,-1.63],[3.57,-0.92],[2.81,2.97],[3.38,5.91],[4.11,3.86],[2.36,4.43],[2.92,-0.09],[3.65,-1.77],[4.02,1.14],[2.64,1.94],[3.19,3.88],[3.47,-2.67],[2.53,5.03],[3.91,0.36],[2.77,-2.93],[3.09,5.24],[4.24,2.18],[2.42,2.83],[3.33,1.71],[3.78,2.93],[2.69,-1.83],[3.56,4.62],[2.98,3.58],[4.33,-2.06],[2.55,6.67],[3.22,-2.22],[3.86,5.63],[2.89,1.36],[3.43,0.92],[4.18,-0.64],
[0.19,2.62],[1.03,3.41],[-0.31,1.22],[1.76,1.02],[0.58,-0.52],[1.34,2.41],[-0.67,3.34],[2.08,1.72],[0.71,0.93],[1.59,-1.43],[-0.12,2.12],[0.97,4.31],[1.86,3.66],[0.36,-1.72],[1.22,0.19],[-0.49,0.64],[2.24,3.88],[0.82,2.51],[1.47,1.18],[0.03,3.53],
[0.57,3.27],[1.68,4.13],[-0.26,0.54],[1.12,1.53],[2.03,-0.84],[0.31,4.62],[-0.84,2.31],[1.43,2.93],[0.86,-1.21],[2.33,3.39],[-0.07,1.86],[1.19,-0.31],[0.49,2.18],[1.97,2.77],[-0.58,-1.04],[0.74,4.53],[1.57,0.23],[2.21,1.49],[0.12,-0.97],[1.04,2.14],[-0.39,2.81],[1.81,-0.18],[0.66,1.27],[2.46,0.96],[0.24,3.19],[1.29,4.76],[-0.71,1.47],[1.63,1.63],[0.93,-0.66],[2.12,4.44],[0.41,0.47],[1.37,3.72],[-0.15,4.38],[0.79,2.86],[1.92,0.67],[-0.93,0.09],[0.55,-1.39],[1.48,2.03],[2.27,-0.27],[0.04,2.43],[1.01,0.41],[1.73,3.27],[-0.46,3.86],[0.87,1.58],[2.39,2.46],[0.26,-0.37],[1.16,3.18],[-0.64,2.58],[1.54,-0.62],[0.68,3.93],[2.06,1.23],[-0.22,-0.15],[0.96,2.33],[1.85,4.57],[0.43,1.96],[1.27,-1.03],[-0.83,3.71],[2.16,0.14],[0.61,0.69],[1.41,4.08],[-0.03,1.04],[0.78,-0.18],[1.66,2.61],[2.29,4.71],[0.17,1.69],[1.08,4.44],[-0.52,1.91],[1.95,1.91],[0.35,2.89],[1.22,0.62],[-0.17,3.04],[2.42,-0.49],[0.73,2.08],[1.58,3.36],[0.09,4.13],[0.99,-1.36],[1.76,1.36],[-0.34,-0.69],[0.52,4.27],[2.01,3.09],[1.31,1.83],[-0.76,0.73],[0.88,3.11],[1.69,-0.37],[0.29,0.97],[2.18,2.18],[1.05,2.69],[-0.44,4.33],[0.64,1.76],[1.49,4.44],[-0.06,2.77],[1.89,-1.07],[0.38,3.54],[1.17,1.02],[2.35,1.78],[0.81,0.31],[-0.61,2.97],[1.62,0.84],[0.14,-0.08],[0.93,3.72],[1.99,4.19],[0.47,-0.86],[1.36,0.01],[-0.27,2.36],[2.09,3.63],[0.71,4.71],[1.26,2.28],[-0.91,1.69],[1.82,2.92]
];

const topQuintile = [
[5.45,14.78],[3.62,12.97],[7.06,13.88],[8.70,14.31],[10.52,12.97],[10.24,12.36],[9.78,12.22],[4.75,12.37],[4.39,11.7],[4.58,11.43],[4.35,11.0],[4.5,10.9],[5.01,11.22],[4.67,10.45],[4.91,10.45],[3.02,10.3],[4.31,9.84],[4.38,9.97],[4.62,9.98],[4.31,9.17],[4.39,9.02],[4.6,8.91],[6.61,12.12],[7.23,11.54],[7.46,11.34],[7.59,11.34],[7.03,11.0],[5.65,10.67],[5.72,10.56],[6.5,10.53],[6.4,10.07],[6.67,10.0],[6.95,9.92],[7.26,9.68],[6.93,9.1],[7.22,8.5],[6.25,9.42],[6.19,8.84],[5.84,9.39],[6.41,8.46],[6.44,8.06],[6.26,7.76],[6.87,7.86],[8.0,9.36],[8.74,9.78],[8.9,9.78],[9.59,9.13],[8.23,8.14],[8.7,7.89],[8.78,8.12],[7.89,7.53],[10.67,7.76],[8.22,6.98],[8.01,6.55],[8.91,6.46],[8.04,5.84],[7.62,6.05],[7.41,5.38],[7.2,5.7],[7.19,5.55],[7.23,5.12],[7.55,4.48],[7.65,4.34],[7.3,4.22],[8.17,5.06],[8.34,4.97],[8.56,4.8],[10.75,4.59],[10.08,3.87],[8.44,3.72],[8.31,3.57],[7.86,3.43],[8.18,2.88],[10.23,3.02],[10.34,2.82],[10.8,2.8],[7.24,3.08],[6.99,2.7],[8.34,2.24],[8.32,1.97],[9.0,2.1],[9.0,1.69],[9.21,1.58],[9.32,1.46],[8.14,1.54],[8.13,1.25],[8.23,0.8],[7.77,0.71],[8.37,0.46],[8.51,0.41],[7.58,0.42],[7.89,0.42],[7.16,1.7],[7.18,1.32],[6.88,1.55],[6.84,0.8],[6.72,1.86],[6.5,1.55],[6.33,1.58],[6.31,1.17],[6.56,1.25],[6.18,0.52],[6.09,1.96],[6.05,2.09],[6.15,1.95],[5.87,1.28],[5.93,1.58],[5.78,1.89],[6.0,3.17],[5.61,1.54],[5.4,1.55],[5.29,0.55],[5.56,0.52],[5.25,1.86],[5.52,2.27],[5.34,2.47],[5.43,2.77],[5.44,3.32],[5.4,3.0],[5.59,3.2],[5.68,3.73],[5.65,4.05],[5.89,3.82],[5.97,4.19],[6.04,4.59],[5.81,4.4],[6.22,4.51],[6.35,4.45],[6.31,3.96],[6.68,4.3],[6.69,3.78],[6.88,4.19],[6.93,3.79],[6.58,4.8],[6.6,5.03],[6.69,5.21],[6.44,5.17],[6.55,5.47],[6.42,5.81],[6.35,5.52],[6.23,6.58],[6.22,6.28],[6.15,5.82],[6.12,5.32],[6.41,6.54],[5.98,7.44],[5.91,5.77],[5.84,5.13],[5.71,5.96],[5.56,5.61],[5.62,5.0],[5.47,4.91],[5.39,4.3],[5.39,3.84],[5.26,4.6],[5.21,3.73],[5.13,4.91],[5.07,5.76],[5.41,5.58],[5.36,5.82],[5.4,6.2],[5.39,6.48],[5.41,7.07],[5.56,6.93],[5.33,7.74],[5.35,8.64],[5.44,8.88],[5.6,8.06],[5.68,7.77],[4.99,7.73],[4.91,8.35],[4.94,8.11],[5.04,6.95],[5.03,6.55],[4.9,7.07],[4.84,6.66],[4.78,6.19],[4.56,6.96],[4.57,6.69],[4.54,6.35],[4.59,5.96],[4.35,6.43],[4.27,6.58],[4.21,7.82],[4.23,7.38],[3.98,8.29],[3.79,7.65],[3.53,7.98],[3.49,8.75],[3.07,7.24],[3.21,7.15],[2.84,7.04],[3.0,6.55],[3.2,6.43],[3.14,6.17],[3.18,5.94],[3.42,6.23],[3.6,6.12],[3.81,6.19],[3.67,7.01],[3.13,5.47],[3.24,4.6],[3.45,4.54],[3.33,4.21],[3.13,4.42],[2.62,5.21],[2.45,5.45],[2.46,6.43],[2.63,3.96],[2.82,3.95],[2.4,3.15],[2.61,2.36],[2.85,3.47],[2.98,3.46],[3.0,2.92],[3.16,2.47],[3.29,2.35],[3.42,2.16],[3.49,2.47],[3.56,3.08],[3.69,4.37],[3.89,5.26],[3.89,4.1],[3.96,3.69],[4.09,3.61],[4.0,4.53],[4.15,4.91],[4.24,4.6],[4.39,4.94],[4.46,4.34],[4.43,4.1],[4.58,5.06],[4.38,5.67],[4.51,5.56],[4.83,4.6],[4.73,4.2],[4.79,3.84],[4.84,3.6],[4.95,4.17],[5.02,4.48],[4.89,5.36],[4.96,4.8],[4.47,3.61],[4.22,3.15],[4.1,3.05],[3.96,2.7],[3.77,2.47],[3.72,2.04],[3.72,1.64],[4.04,1.86],[4.2,1.4],[4.29,1.52],[4.42,2.47],[4.52,1.83],[4.64,2.41],[4.67,3.29],[4.83,2.51],[4.91,2.25],[4.72,1.66],[4.8,1.9],[4.89,1.78],[4.95,1.4],[5.02,1.8],[5.1,2.47],[5.13,3.23],[5.18,1.7],[5.12,1.25],[5.23,1.17],[4.98,0.64],[4.87,1.32],[4.75,1.25],[4.59,1.13],[4.49,1.2],[4.53,0.67],[4.36,0.75],[4.16,0.64],[4.05,0.82],[3.93,1.25],[3.87,0.61],[3.68,0.79],[3.59,1.2],[3.49,1.25],[3.29,1.25],[3.21,0.79],[3.08,0.94],[3.0,0.94],[2.84,1.02],[2.94,0.41],[2.62,0.41],[2.39,2.19],[2.43,1.25],[3.0,2.09],[2.86,1.86],[3.52,1.86],[3.63,2.24],[3.48,3.87],[2.54,4.6],
[2.43,6.46],[2.45,5.5],[2.63,5.23],[2.85,7.0],[2.63,3.9],[2.87,3.4],[2.39,2.5],[2.6,2.3],[2.87,1.8],[2.83,1.0],[2.85,-2.56],
[2.62,0.36],[3.1,0.36],[3.48,0.3],[3.23,0.46],[4.17,0.49],[4.51,0.56],[4.83,0.33],[5.01,0.36],[5.29,0.53],[5.57,0.49],[6.18,0.49],[6.83,0.74],[7.58,0.33],[7.73,0.33],[7.77,0.67],[7.89,0.41],[8.22,0.74],[8.37,0.41],[8.52,0.3],[10.17,0.06],[6.84,-0.18],[6.93,-0.76],[7.16,-0.9],[7.73,-0.96],[7.76,-1.28],[9.92,-1.11],[9.59,-1.6],[9.1,-1.72],[8.63,-2.1],[7.54,-1.86],[7.59,-2.39],[7.33,-2.06],[7.4,-2.41],[7.41,-2.59],[7.04,-1.65],[6.8,-1.46],[6.9,-2.81],[6.92,-3.31],[6.48,-1.25],[6.34,-1.46],[6.26,-0.92],[6.05,-0.96],[5.99,-0.76],[5.76,-0.4],[5.91,-0.4],[5.64,-0.73],[5.6,-1.1],[5.37,-1.65],[5.34,-1.91],[5.49,-1.98],[5.55,-2.09],[5.21,-0.85],[5.29,-0.4],[5.08,-0.52],[4.93,-0.58],[5.87,-2.32],[5.92,-2.65],[6.2,-2.49],[6.26,-3.08],[6.57,-2.87],[6.69,-2.9],[6.0,-3.54],[5.95,-4.39],[5.95,-4.6],[6.43,-4.94],[6.79,-5.26],[6.54,-6.2],[7.24,-3.58],[7.07,-4.09],[7.24,-4.1],[8.0,-3.83],[7.92,-4.63],[7.83,-5.29],[8.31,-5.0],[8.35,-5.31],[8.35,-6.28],[8.71,-6.6],[9.23,-7.04],[10.35,-2.91],[10.39,-3.77],[10.61,-4.38],[10.81,-4.19],[5.26,-2.62],[5.27,-3.67],[5.33,-3.86],[5.44,-4.04],[5.53,-3.42],[5.15,-2.87],[5.28,-2.42],[5.13,-2.2],[4.98,-1.6],[4.93,-1.74],[4.86,-1.89],[4.89,-2.56],[4.89,-2.9],[4.91,-3.2],[4.92,-3.93],[5.16,-4.82],[5.08,-5.11],[4.76,-5.12],[4.9,-6.8],[4.89,-7.24],[5.26,-6.56],[5.47,-6.1],[5.73,-6.86],[4.61,-8.26],[4.49,-5.96],[4.36,-6.14],[4.19,-6.56],[3.92,-6.56],[4.16,-5.03],[4.36,-4.6],[4.27,-9.3],[4.49,-3.54],[4.54,-2.97],[4.68,-2.87],[4.59,-1.86],[4.28,-2.96],[4.27,-1.65],[4.23,-1.28],[4.36,-1.24],[4.69,-1.04],[4.57,-0.63],[4.38,-0.73],[4.3,-0.43],[4.12,-0.47],[4.21,0.0],[4.47,0.12],[4.58,-0.28],[4.4,0.23],[3.86,-0.96],[3.96,-0.99],[3.85,-2.81],[3.96,-3.17],[3.74,-3.16],[3.6,-2.76],[3.48,-2.35],[3.59,-8.14],[3.2,-8.1],[3.17,-9.07],[2.93,-9.24],[3.72,-10.62],[3.86,-11.28],[3.14,-13.03],[2.97,-5.96],[3.36,-6.19],[3.36,-6.63],[3.2,-3.81],[3.19,-4.36],[3.2,-3.08],[3.21,-2.44],[3.1,-2.14],[2.85,-2.53],[2.67,-3.45],[3.1,-0.28],[2.98,-0.82],[3.05,-1.36],[3.22,-0.73],[3.44,-0.38],[3.31,-1.2],[2.56,-0.31],[6.06,-9.96],[6.05,-13.92]
];

const FONT = '"DejaVu Sans", sans-serif';
const toMinus = s => s.replace('-', '\u2212');
const chart = echarts.init(document.getElementById('chart'), null, {renderer: 'canvas'});
const axisColor = '#3f4b5c';
const textStyleBox = {font: '19.4px ' + FONT, fill: '#1c1f2b', align: 'right', textAlign: 'right', verticalAlign: 'middle', textVerticalAlign: 'middle'};
const option = {
  animation: false,
  backgroundColor: '#ffffff',
  grid: {left: 103, right: 4, top: 10, bottom: 74, containLabel: false},
  xAxis: {
    type: 'value', min: xRange[0], max: xRange[1],
    name: 'Trailing 3-yr style-neutral stock-picking (pp)', nameLocation: 'middle', nameGap: 45,
    nameTextStyle: {fontFamily: FONT, fontSize: 21.5, color: '#4d5b70'},
    axisLine: {show: true, onZero: false, lineStyle: {color: axisColor, width: 2}},
    axisTick: {show: true, length: 6, customValues: xTicks, lineStyle: {color: axisColor, width: 1.5}},
    axisLabel: {customValues: xTicks, margin: 15, fontFamily: FONT, fontSize: 21, color: '#262626',
      formatter: v => toMinus(Number(v).toFixed(1))},
    splitLine: {show: true, lineStyle: {color: '#e8eaf0', width: 1}}
  },
  yAxis: {
    type: 'value', min: yRange[0], max: yRange[1],
    name: 'Next-year stock-picking (pp)', nameLocation: 'middle', nameGap: 69,
    nameTextStyle: {fontFamily: FONT, fontSize: 21.5, color: '#4d5b70'},
    axisLine: {show: true, onZero: false, lineStyle: {color: axisColor, width: 2}},
    axisTick: {show: true, length: 6, customValues: yTicks, lineStyle: {color: axisColor, width: 1.5}},
    axisLabel: {customValues: yTicks, margin: 14, fontFamily: FONT, fontSize: 21, color: '#262626',
      formatter: v => toMinus(String(v))},
    splitLine: {show: true, lineStyle: {color: '#e8eaf0', width: 1}}
  },
  legend: {
    show: true, orient: 'vertical', left: 132, top: 22, itemWidth: 64, itemHeight: 9, itemGap: 10,
    icon: 'circle', selectedMode: false,
    textStyle: {fontFamily: FONT, fontSize: 20, color: '#1c1f2b'},
    data: seriesNames
  },
  series: [
    {
      type: 'scatter', name: 'zero-lines', data: [], silent: true, z: 1,
      markLine: {silent: true, symbol: ['none', 'none'], label: {show: false},
        lineStyle: {color: '#c6d0df', width: 1.6, type: 'solid'},
        data: [{xAxis: 0}, {yAxis: 0}]}
    },
    {
      type: 'scatter', name: seriesNames[0], data: restSparse.concat(restCore, restDense, restHeart), symbolSize: 8.3, z: 2,
      itemStyle: {color: '#94a3b8', opacity: 0.45}
    },
    {
      type: 'scatter', name: seriesNames[1], data: topQuintile, symbolSize: 9.5, z: 3,
      itemStyle: {color: '#3b82f6', opacity: 0.72}
    },
    {
      type: 'line', name: 'fit', data: fitX.map((x, i) => [x, fitY[i]]), symbol: 'none', z: 4, silent: true,
      lineStyle: {color: '#1e3a8a', width: 4}
    }
  ],
  graphic: [
    {type: 'rect', z: 100, shape: {x: 853.5, y: 580.5, width: 371, height: 82, r: 8},
      style: {fill: 'rgba(255,255,255,0.9)', stroke: '#c3cde0', lineWidth: 1.5}},
    {type: 'text', z: 101, x: 1213.5, y: 598.5, style: Object.assign({text: statLines[0]}, textStyleBox)},
    {type: 'text', z: 101, x: 1050, y: 620, style: Object.assign({text: statLines[1]}, textStyleBox)},
    {type: 'text', z: 101, x: 1213.5, y: 620, style: Object.assign({text: statLines[2]}, textStyleBox)},
    {type: 'text', z: 101, x: 1213.5, y: 641.5, style: Object.assign({text: statLines[3]}, textStyleBox)}
  ]
};
chart.setOption(option);
</script>
</body></html>
